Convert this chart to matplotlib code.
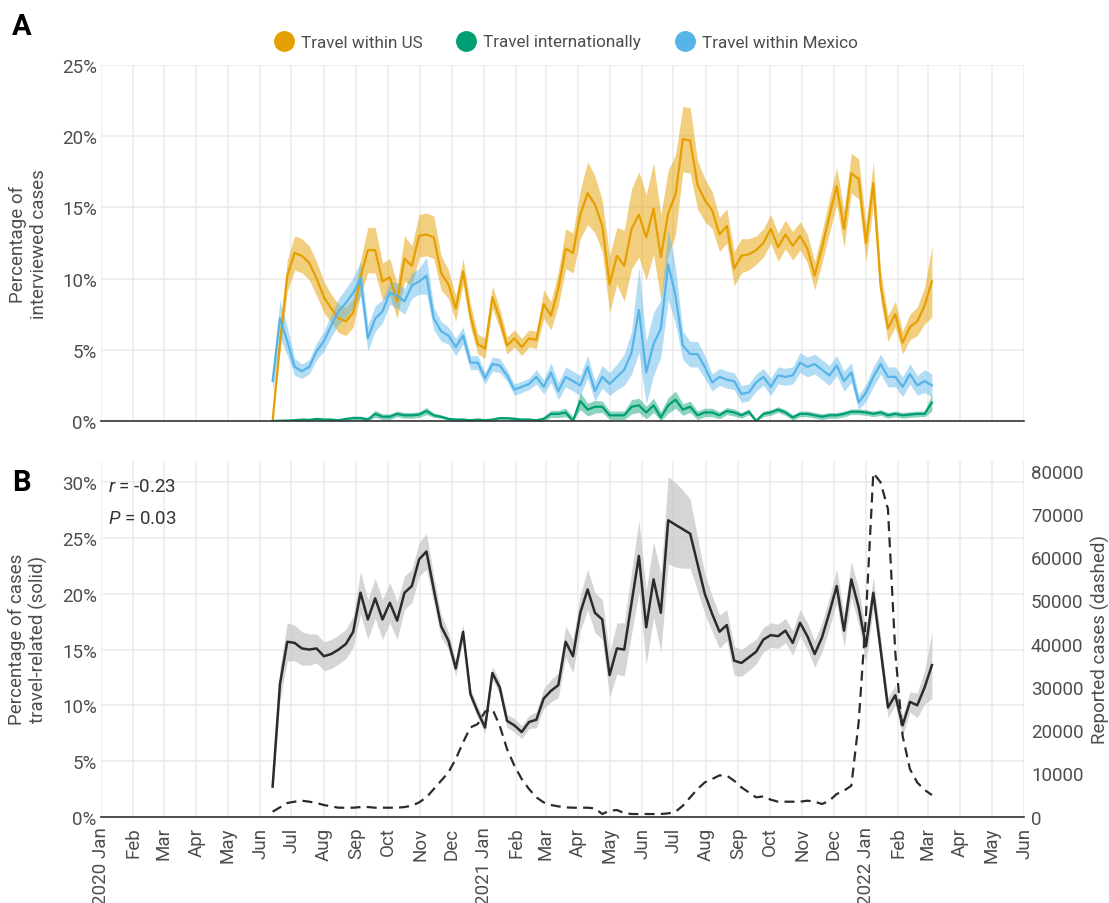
import datetime as dt

import matplotlib
matplotlib.use("Agg")
import matplotlib.pyplot as plt
import matplotlib.dates as mdates
import matplotlib.ticker as mticker
from matplotlib.lines import Line2D
import numpy as np
import pandas as pd

plt.rcParams["font.family"] = ["Roboto", "DejaVu Sans"]
plt.rcParams["font.weight"] = "normal"
plt.rcParams["mathtext.fontset"] = "custom"
plt.rcParams["mathtext.it"] = "Roboto:italic"
plt.rcParams["mathtext.rm"] = "Roboto"

# == data (weekly)
weeks = pd.date_range("2020-06-13", periods=91, freq="7D")

travel_us = [0.0, 5.5, 10.2, 11.8, 11.6, 11.1, 10.0, 8.7, 7.9, 7.2,
             7.0, 7.6, 10.1, 12.0, 12.0, 9.8, 10.1, 8.4, 11.4, 10.9,
             13.0, 13.1, 12.9, 10.4, 9.6, 7.9, 10.5, 7.4, 5.4, 5.1,
             8.7, 7.2, 5.3, 5.8, 5.2, 5.8, 5.7, 8.2, 7.4, 9.3,
             12.1, 11.8, 14.5, 16.0, 15.2, 13.7, 9.6, 11.6, 10.9, 13.5,
             14.5, 12.9, 14.9, 11.5, 14.6, 15.9, 19.8, 19.7, 16.6, 15.5,
             14.8, 13.1, 13.7, 10.7, 11.6, 11.7, 12.0, 12.5, 13.5, 12.2,
             13.1, 12.3, 13.0, 12.1, 10.2, 12.2, 14.4, 16.5, 13.5, 17.4,
             17.0, 12.5, 16.7, 9.5, 6.5, 7.5, 5.5, 6.6, 7.0, 8.1,
             9.8]
travel_us_hw = [0.2, 0.8, 1.1, 1.2, 1.2, 1.2, 1.2, 1.1, 1.0, 1.0,
                1.0, 1.0, 1.2, 1.6, 1.6, 1.3, 1.3, 1.2, 1.6, 1.4,
                1.5, 1.5, 1.5, 1.2, 1.0, 0.9, 0.9, 0.8, 0.7, 0.7,
                0.8, 0.7, 0.6, 0.6, 0.6, 0.6, 0.6, 1.0, 1.0, 1.2,
                1.4, 1.4, 1.7, 2.2, 2.0, 1.8, 2.0, 2.0, 2.5, 2.8,
                3.0, 3.0, 3.2, 3.0, 3.0, 2.8, 2.3, 2.3, 1.7, 1.5,
                1.3, 1.2, 1.2, 1.2, 1.2, 1.1, 1.0, 1.0, 1.0, 1.0,
                1.0, 1.0, 1.0, 1.0, 1.0, 1.1, 1.2, 1.3, 1.3, 1.4,
                1.4, 1.3, 1.5, 1.0, 0.9, 0.9, 0.8, 0.9, 1.0, 1.3,
                2.5]

travel_intl = [0.0, 0.02, 0.03, 0.05, 0.1, 0.08, 0.15, 0.1, 0.1, 0.05,
               0.15, 0.2, 0.2, 0.1, 0.5, 0.3, 0.3, 0.5, 0.4, 0.4,
               0.45, 0.7, 0.4, 0.3, 0.15, 0.1, 0.1, 0.05, 0.1, 0.05,
               0.1, 0.2, 0.2, 0.15, 0.1, 0.1, 0.05, 0.15, 0.5, 0.5,
               0.6, 0.0, 1.4, 0.8, 1.0, 1.0, 0.4, 0.4, 0.4, 1.0,
               1.1, 0.6, 1.1, 0.25, 1.1, 1.5, 0.8, 1.0, 0.4, 0.6,
               0.6, 0.4, 0.7, 0.6, 0.4, 0.65, 0.0, 0.5, 0.6, 0.8,
               0.6, 0.25, 0.5, 0.5, 0.4, 0.3, 0.4, 0.4, 0.5, 0.65,
               0.65, 0.6, 0.5, 0.6, 0.4, 0.5, 0.4, 0.45, 0.5, 0.5,
               1.3]
travel_intl_hw = [0.05, 0.08, 0.08, 0.08, 0.08, 0.08, 0.08, 0.08, 0.08, 0.08,
                  0.1, 0.15, 0.15, 0.15, 0.25, 0.2, 0.2, 0.2, 0.2, 0.2,
                  0.2, 0.25, 0.15, 0.12, 0.1, 0.1, 0.1, 0.1, 0.1, 0.1,
                  0.1, 0.12, 0.12, 0.12, 0.1, 0.1, 0.1, 0.15, 0.25, 0.25,
                  0.3, 0.3, 0.6, 0.45, 0.45, 0.4, 0.3, 0.3, 0.3, 0.5,
                  0.5, 0.45, 0.5, 0.4, 0.55, 0.6, 0.4, 0.4, 0.3, 0.3,
                  0.3, 0.25, 0.25, 0.25, 0.2, 0.2, 0.15, 0.2, 0.2, 0.2,
                  0.2, 0.2, 0.2, 0.2, 0.2, 0.2, 0.2, 0.2, 0.2, 0.2,
                  0.2, 0.2, 0.2, 0.2, 0.2, 0.2, 0.2, 0.2, 0.2, 0.2,
                  0.6]

travel_mx = [2.8, 7.2, 5.6, 3.8, 3.5, 3.8, 4.9, 5.6, 6.7, 7.7,
             8.3, 9.0, 10.0, 5.8, 7.2, 7.7, 9.0, 8.8, 8.4, 9.5,
             9.8, 10.2, 7.2, 6.3, 6.0, 5.2, 6.0, 4.1, 4.1, 3.0,
             4.0, 3.9, 3.2, 2.2, 2.4, 2.6, 3.1, 2.4, 3.4, 2.1,
             3.1, 2.8, 2.5, 3.8, 2.1, 3.1, 2.6, 3.1, 3.6, 4.8,
             7.8, 3.4, 5.4, 6.5, 11.0, 8.8, 5.3, 4.7, 4.7, 3.8,
             2.7, 3.1, 2.9, 2.8, 1.9, 2.0, 2.7, 3.1, 2.4, 3.2,
             3.1, 3.2, 4.1, 3.8, 4.0, 3.6, 3.2, 3.9, 2.8, 3.4,
             1.3, 2.0, 3.1, 4.0, 3.1, 3.1, 2.4, 3.3, 2.5, 2.8,
             2.5]
travel_mx_hw = [0.8, 1.3, 1.0, 0.6, 0.5, 0.5, 0.6, 0.7, 0.8, 0.9,
                1.0, 1.1, 1.2, 0.9, 0.9, 0.8, 0.8, 0.9, 0.9, 0.9,
                0.9, 1.3, 0.8, 0.7, 0.6, 0.6, 0.6, 0.5, 0.5, 0.4,
                0.5, 0.5, 0.4, 0.4, 0.4, 0.4, 0.5, 0.5, 0.7, 0.6,
                0.7, 0.7, 0.7, 0.8, 0.7, 0.8, 0.8, 0.9, 1.1, 1.5,
                3.0, 2.2, 2.2, 2.0, 2.5, 2.0, 1.0, 0.9, 0.9, 0.8,
                0.6, 0.6, 0.6, 0.6, 0.6, 0.6, 0.6, 0.6, 0.6, 0.6,
                0.6, 0.6, 0.7, 0.7, 0.7, 0.7, 0.7, 0.7, 0.7, 0.7,
                0.5, 0.6, 0.7, 0.7, 0.7, 0.7, 0.7, 0.7, 0.7, 0.8,
                0.8]

travel_related = [2.7, 11.9, 15.7, 15.6, 15.1, 15.0, 15.1, 14.4, 14.6, 15.0,
                  15.5, 16.6, 20.1, 17.7, 19.6, 17.7, 19.2, 17.6, 20.1, 20.7,
                  23.1, 23.8, 20.4, 17.1, 15.8, 13.3, 16.6, 11.0, 9.4, 8.0,
                  12.9, 11.6, 8.6, 8.2, 7.6, 8.5, 8.7, 10.6, 11.3, 11.8,
                  15.7, 14.4, 18.3, 20.4, 18.3, 17.7, 12.7, 15.1, 15.0, 19.2,
                  23.4, 17.0, 21.3, 18.3, 26.6, 26.2, 25.8, 25.4, 22.7, 20.0,
                  18.2, 16.6, 17.2, 14.0, 13.8, 14.3, 14.8, 15.9, 16.3, 16.2,
                  16.7, 15.6, 17.4, 16.2, 14.6, 16.1, 18.3, 20.7, 16.7, 21.3,
                  18.8, 15.3, 20.1, 15.0, 9.8, 10.9, 8.2, 10.3, 10.0, 11.6,
                  13.6]
travel_related_hw = [0.3, 1.5, 1.7, 1.6, 1.5, 1.4, 1.3, 1.3, 1.3, 1.3,
                     1.3, 1.4, 1.9, 1.8, 1.8, 1.8, 1.8, 1.7, 1.5, 1.5,
                     1.5, 1.6, 1.2, 1.0, 0.8, 0.7, 0.7, 0.5, 0.5, 0.5,
                     0.6, 0.6, 0.6, 0.6, 0.6, 0.6, 0.7, 0.9, 1.0, 1.1,
                     1.4, 1.5, 1.6, 1.8, 1.8, 1.8, 2.0, 2.3, 2.4, 2.8,
                     3.2, 3.3, 3.4, 3.5, 3.9, 3.8, 3.5, 3.1, 2.4, 1.8,
                     1.6, 1.5, 1.4, 1.3, 1.2, 1.2, 1.1, 1.1, 1.1, 1.1,
                     1.1, 1.1, 1.2, 1.2, 1.2, 1.3, 1.4, 1.5, 1.5, 1.6,
                     1.6, 1.5, 1.4, 1.1, 0.9, 0.9, 0.9, 0.9, 1.1, 1.5,
                     3.0]

reported_cases = [1160, 2160, 3160, 3470, 3700, 3470, 3160, 2700, 2390, 2080,
                  2080, 2080, 2230, 2230, 2080, 2080, 2080, 2080, 2230, 2540,
                  3310, 4470, 6400, 8320, 10250, 13330, 17180, 20650, 21420, 24300,
                  24900, 21040, 15640, 11790, 8710, 6400, 4470, 3310, 2700, 2390,
                  2160, 2080, 2080, 2080, 1930, 620, 1390, 1540, 850, 620,
                  620, 620, 620, 620, 770, 1160, 2540, 4470, 6400, 7940,
                  8710, 9550, 9480, 8320, 6780, 5630, 4470, 4700, 3930, 3470,
                  3470, 3470, 3470, 3700, 3470, 2930, 3700, 5240, 6010, 7170,
                  21800, 46500, 79450, 77300, 71100, 38000, 18700, 11000, 7900, 6200,
                  5000]

series_a = [("Travel within US", travel_us, travel_us_hw, "#E69F00", 0.5),
            ("Travel internationally", travel_intl, travel_intl_hw, "#009E73", 0.45),
            ("Travel within Mexico", travel_mx, travel_mx_hw, "#56B4E9", 0.45)]

TXT = "#4D4D4D"
GRID = "#EBEBEB"
FS = 13.5
cases_per_pct = 2576  # right axis scale relative to left

def month_label(x, pos=None):
    d = mdates.num2date(x)
    return d.strftime("%Y %b") if d.month == 1 else d.strftime("%b")

def style(ax, show_x):
    for s in ("left", "right", "top"):
        ax.spines[s].set_visible(False)
    ax.spines["bottom"].set_color("#333333")
    ax.spines["bottom"].set_linewidth(1.2)
    ax.grid(True, color=GRID, linewidth=1.1)
    ax.set_axisbelow(True)
    ax.tick_params(length=0, labelsize=FS, labelcolor=TXT)
    ax.tick_params(axis="y", pad=3)
    ax.tick_params(axis="x", pad=7)
    ax.set_xlim(dt.datetime(2020, 1, 1), dt.datetime(2022, 6, 1))
    ax.xaxis.set_major_locator(mdates.MonthLocator())
    if show_x:
        ax.xaxis.set_major_formatter(mticker.FuncFormatter(month_label))
        for lab in ax.get_xticklabels():
            lab.set_rotation(90)
    else:
        ax.xaxis.set_major_formatter(mticker.NullFormatter())
    ax.yaxis.set_major_formatter(mticker.FuncFormatter(lambda v, p: "%d%%" % v))

fig = plt.figure(figsize=(11.09, 9.04), dpi=100)
axA = fig.add_axes([101 / 1109, 1 - 422 / 904, 923 / 1109, 356 / 904])
axB = fig.add_axes([101 / 1109, 1 - 817.7 / 904, 923 / 1109, 356 / 904])

# == panel A
style(axA, False)
for name, vals, hw, col, alp in series_a:
    v = np.array(vals)
    h = np.array(hw)
    axA.fill_between(weeks, np.clip(v - h, 0, None), v + h, color=col,
                     alpha=alp, linewidth=0)
    axA.plot(weeks, v, color=col, linewidth=1.6)
axA.set_ylim(0, 25)
axA.set_yticks(range(0, 26, 5))
axA.text(-0.079, 0.5, "Percentage of\ninterviewed cases", transform=axA.transAxes,
         rotation=90, ha="center", va="center", fontsize=FS, color=TXT)

handles = [Line2D([], [], marker="o", linestyle="", markersize=14,
                  markerfacecolor=c, markeredgecolor=c) for _, _, _, c, _ in series_a]
fig.legend(handles, [s[0] for s in series_a], loc="center",
           bbox_to_anchor=(566 / 1109, 1 - 43 / 904), ncol=3, frameon=False,
           fontsize=12.3, labelcolor=TXT, handlelength=1.1,
           handletextpad=0.45, columnspacing=2.0)

# == panel B
style(axB, True)
tr = np.array(travel_related)
trh = np.array(travel_related_hw)
axB.fill_between(weeks, tr - trh, tr + trh, color="#C8C8C8", alpha=0.75, linewidth=0)
axB.plot(weeks, tr, color="#2B2B2B", linewidth=1.8)
axB.set_ylim(0, 31.95)
axB.set_yticks(range(0, 31, 5))
axB.text(-0.079, 0.5, "Percentage of cases\ntravel-related (solid)", transform=axB.transAxes,
         rotation=90, ha="center", va="center", fontsize=FS, color=TXT)

axC = axB.twinx()
for s in axC.spines.values():
    s.set_visible(False)
axC.plot(weeks, reported_cases, color="#2B2B2B", linewidth=1.6,
         linestyle=(0, (4.5, 2.8)))
axC.set_ylim(0, 31.95 * cases_per_pct)
axC.set_yticks(range(0, 80001, 10000))
axC.tick_params(length=0, labelsize=FS, labelcolor=TXT, pad=5)
axC.text(1.083, 0.5, "Reported cases (dashed)", transform=axB.transAxes,
         rotation=90, ha="center", va="center", fontsize=FS, color=TXT)

axB.text(0.008, 0.929, "$r$ = -0.23", transform=axB.transAxes, fontsize=FS,
         color="#333333", va="center")
axB.text(0.008, 0.838, "$P$ = 0.03", transform=axB.transAxes, fontsize=FS,
         color="#333333", va="center")

fig.text(12 / 1109, 1 - 27 / 904, "A", fontsize=21, fontweight="bold", va="center")
fig.text(12 / 1109, 1 - 483 / 904, "B", fontsize=21, fontweight="bold", va="center")

fig.savefig("out.png", dpi=100)
